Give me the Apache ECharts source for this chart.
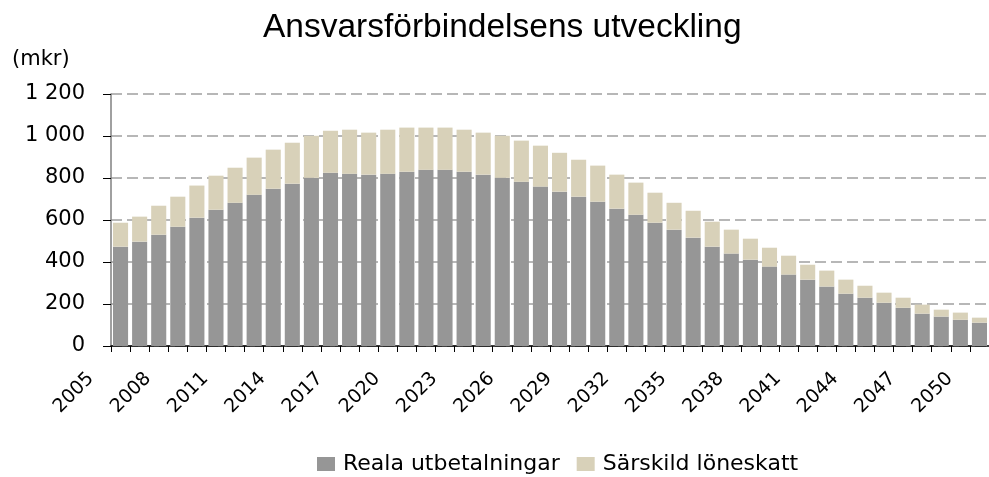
<!DOCTYPE html>
<html>
<head>
<meta charset="utf-8">
<script src="https://cdn.jsdelivr.net/npm/echarts@6/dist/echarts.min.js"></script>
<style>
  html, body { margin: 0; padding: 0; background: #fff; }
  #chart { width: 989px; height: 477px; }
</style>
</head>
<body>
<div id="chart"></div>
<script>
// years on the x axis
const years = [];
for (let y = 2005; y <= 2050; y++) years.push(String(y));

// total height of each stacked bar (mkr)
const totals = [
  587, 616, 668, 711, 764, 811, 849, 897, 935, 968,
  1001, 1025, 1030, 1016, 1030, 1040, 1040, 1040, 1030, 1016,
  1001, 978, 954, 920, 887, 859, 816, 778, 730, 682,
  644, 592, 554, 511, 468, 430, 387, 359, 316, 287,
  254, 230, 197, 173, 159, 135
];

// Reala utbetalningar (grey part)
const reala = [
  473, 497, 530, 568, 611, 649, 682, 720, 749, 773,
  801, 825, 820, 816, 820, 830, 839, 839, 830, 816,
  801, 782, 759, 735, 711, 687, 654, 625, 587, 554,
  516, 473, 440, 411, 378, 340, 316, 283, 249, 230,
  206, 182, 154, 140, 125, 111
];

// Särskild löneskatt = the rest of the bar
const loneskatt = totals.map((t, i) => t - reala[i]);

const seriesNames = ['Reala utbetalningar', 'Särskild löneskatt'];
const colors = ['#969696', '#D8D1B9'];

// the reference text is wide, DejaVu gets closest for labels
const wide = '"DejaVu Sans", sans-serif';
const arial = '"Liberation Sans", Arial, sans-serif';

const chart = echarts.init(document.getElementById('chart'));
chart.setOption({
  animation: false,
  color: colors,
  title: {
    text: 'Ansvarsförbindelsens utveckling',
    left: 263,
    top: 11,
    padding: 0,
    textStyle: { fontFamily: arial, fontSize: 33.5, fontWeight: 'normal', color: '#000' }
  },
  graphic: [{
    type: 'text',
    left: 12,
    top: 49,
    style: { text: '(mkr)', font: '21px ' + wide, fill: '#000' }
  }],
  legend: {
    bottom: 2,
    left: 317,
    padding: 0,
    icon: 'rect',
    itemWidth: 18,
    itemHeight: 14,
    itemGap: 17,
    textStyle: { fontFamily: wide, fontSize: 22, color: '#000', padding: [0, 0, 0, 3] },
    data: seriesNames
  },
  grid: { left: 111, top: 94, bottom: 131, right: -10, containLabel: false },
  xAxis: {
    type: 'category',
    data: years,
    axisLine: { lineStyle: { color: '#000', width: 1.5 } },
    axisTick: { show: true, interval: 0, length: 6, lineStyle: { color: '#000' } },
    axisLabel: {
      interval: 2,
      rotate: 45,
      margin: 0,
      padding: [0, 42, 0, 0],
      fontFamily: wide,
      fontSize: 19,
      color: '#000'
    }
  },
  yAxis: {
    type: 'value',
    min: 0,
    max: 1200,
    interval: 200,
    axisLine: { show: true, lineStyle: { color: '#808080', width: 1.5 } },
    axisTick: { show: true, length: 8, lineStyle: { color: '#000' } },
    axisLabel: {
      margin: 26,
      fontFamily: wide,
      fontSize: 21,
      color: '#000',
      formatter: v => String(v).replace(/\B(?=(\d{3})+(?!\d))/g, ' ')
    },
    splitLine: { show: true, lineStyle: { color: '#A0A0A0', type: [11, 5], width: 1.5 } }
  },
  series: [
    {
      name: seriesNames[0],
      type: 'bar',
      stack: 'total',
      barCategoryGap: '21%',
      data: reala
    },
    {
      name: seriesNames[1],
      type: 'bar',
      stack: 'total',
      data: loneskatt
    }
  ]
});
</script>
</body>
</html>
